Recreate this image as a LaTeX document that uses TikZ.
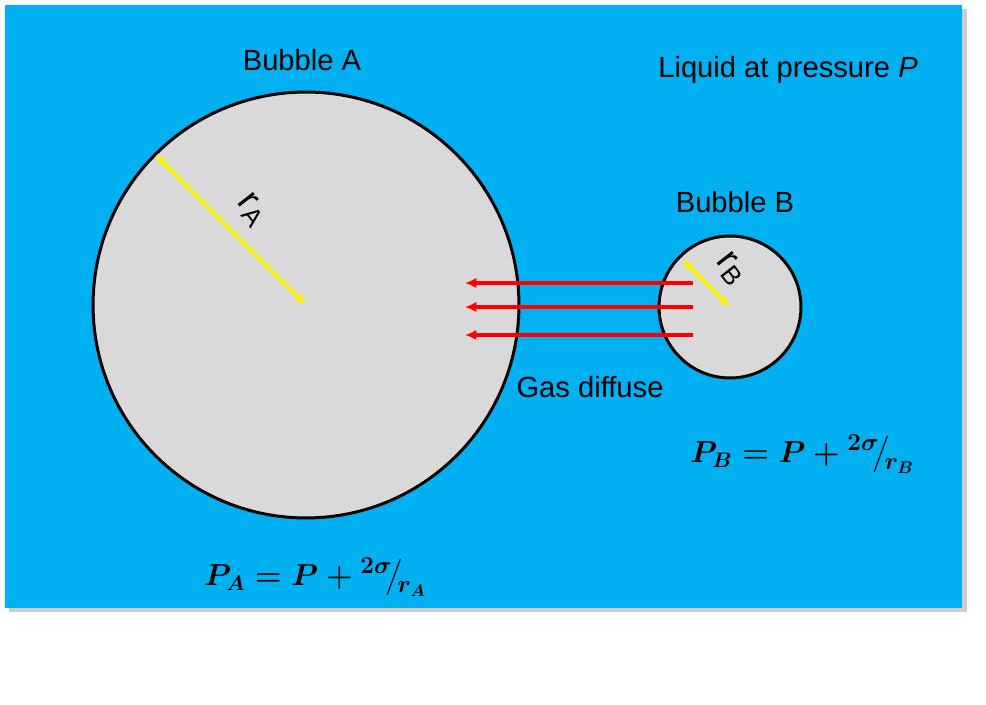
\documentclass[tikz,border=0pt]{standalone}
\usepackage{fontspec}
\usepackage{amsmath,bm,graphicx}
\setmainfont{Liberation Sans}
\setsansfont{Liberation Sans}
\usetikzlibrary{arrows.meta}
\definecolor{liquid}{HTML}{00B0F0}
\definecolor{gasgrey}{HTML}{D9D9D9}
\newcommand{\slashfrac}[2]{\raisebox{0.42em}{\scalebox{0.8}{$#1$}}\!\big/\!\raisebox{-0.25em}{\scalebox{0.8}{$#2$}}}
\begin{document}
\begin{tikzpicture}[x = 0.02 cm, y = 0.02 cm,
	bubble/.style = {circle, draw = black, line width = 1.7pt, fill = gasgrey, inner sep = 0pt, outer sep = 0pt},
	radius arrow/.style = {yellow, line width = 2.1pt, {Latex[length = 6pt, width = 5.5pt]}-{Latex[length = 6pt, width = 5.5pt]}},
	flow arrow/.style = {red, line width = 2.5pt, -{Latex[length = 6.5pt, width = 6pt]}},
	label/.style = {font = \fontsize{16.6}{20}\selectfont, inner sep = 0pt},
	formula/.style = {font = \fontsize{16.5}{20}\selectfont\boldmath, inner sep = 0pt}]

	% Canvas

	\useasboundingbox (0, 0) rectangle (986, 704);
	\fill [black!20] (9, 92) rectangle (967, 695);
	\fill [liquid] (5, 96) rectangle (962, 699);

	% Bubbles

	\node [bubble, minimum size = 8.52 cm] (bubA) at (306, 399) {};
	\node [bubble, minimum size = 2.84 cm] (bubB) at (730, 397) {};

	\draw [radius arrow] (bubA.135) -- (bubA.center);
	\draw [radius arrow, shorten <= 2pt] (bubB.135) -- (bubB.center);

	\node [label, font = \fontsize{21}{24}\selectfont, rotate = -52] (rA) at (252, 494) {r\textsubscript{A}};
	\node [label, font = \fontsize{21}{24}\selectfont, rotate = -52] (rB) at (731, 435) {r\textsubscript{B}};

	% Diffusion

	\foreach \i/\y in {1/421, 2/397, 3/369} {
		\coordinate (s\i) at (693, \y);
		\coordinate (e\i) at (465, \y);
		\draw [flow arrow] (s\i) -- (e\i);
	}

	% Labels

	\node [label] (tA) at (302, 644) {Bubble A};
	\node [label] (tB) at (735, 502) {Bubble B};
	\node [label] (liq) at (788, 634) {Liquid at pressure \textit{P}};
	\node [label] (gas) at (590, 317) {Gas diffuse};

	\node [formula] (pA) at (315, 127) {$P_{\bm{A}} = P + \slashfrac{2\sigma}{r_{\bm{A}}}$};
	\node [formula] (pB) at (802, 250) {$P_{\bm{B}} = P + \slashfrac{2\sigma}{r_{\bm{B}}}$};

\end{tikzpicture}
\end{document}
